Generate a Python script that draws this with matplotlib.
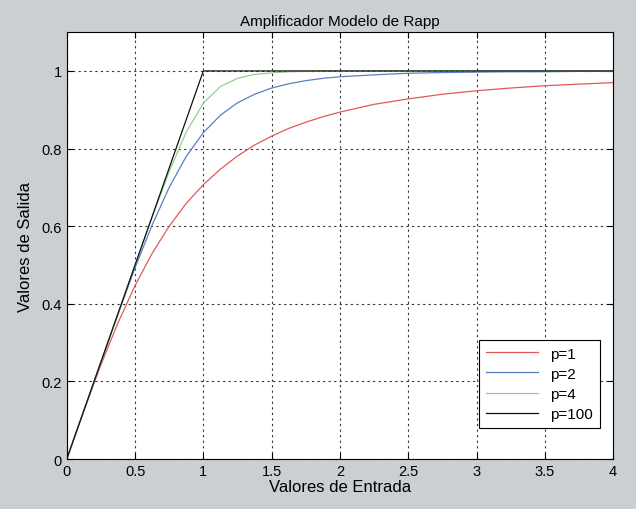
import matplotlib
matplotlib.use("Agg")
import matplotlib.pyplot as plt

x_in = [0, 0.125, 0.25, 0.375, 0.5, 0.625, 0.75, 0.875, 1.0, 1.125, 1.25, 1.375, 1.5, 1.625, 1.75, 1.875,
        2.0, 2.25, 2.5, 2.75, 3.0, 3.25, 3.5, 3.75, 4.0]
y_p1 = [0, 0.124, 0.243, 0.351, 0.447, 0.530, 0.600, 0.659, 0.707, 0.747, 0.781, 0.809, 0.832, 0.852, 0.868, 0.882,
        0.894, 0.914, 0.928, 0.940, 0.949, 0.956, 0.962, 0.966, 0.970]
y_p2 = [0, 0.125, 0.250, 0.373, 0.493, 0.603, 0.700, 0.780, 0.841, 0.886, 0.918, 0.940, 0.956, 0.967, 0.975, 0.981,
        0.985, 0.990, 0.994, 0.996, 0.997, 0.998, 0.998, 0.999, 0.999]
y_p4 = [0, 0.125, 0.250, 0.375, 0.500, 0.623, 0.741, 0.843, 0.917, 0.960, 0.981, 0.991, 0.995, 0.998, 0.999, 1.0,
        1.0, 1.0, 1.0, 1.0, 1.0, 1.0, 1.0, 1.0, 1.0]
y_p100 = [0, 0.125, 0.25, 0.375, 0.5, 0.625, 0.75, 0.875, 1.0, 1.0, 1.0, 1.0, 1.0, 1.0, 1.0, 1.0,
          1.0, 1.0, 1.0, 1.0, 1.0, 1.0, 1.0, 1.0, 1.0]
labels = ["p=1", "p=2", "p=4", "p=100"]
colors = ["#e05a5a", "#5a7fc4", "#8fd08f", "#111111"]
xticks = [0, 0.5, 1, 1.5, 2, 2.5, 3, 3.5, 4]
xticklabels = ["0", "0.5", "1", "1.5", "2", "2.5", "3", "3.5", "4"]
yticks = [0, 0.2, 0.4, 0.6, 0.8, 1.0]
yticklabels = ["0", "0.2", "0.4", "0.6", "0.8", "1"]

plt.rcParams['font.family'] = ['Liberation Sans', 'DejaVu Sans']

fig = plt.figure(figsize=(6.36, 5.10), dpi=100, facecolor='#cbcfd2')
ax = fig.add_axes([0.105, 0.098, 0.859, 0.837])
ax.set_facecolor('white')

for ys, lab, c in zip([y_p1, y_p2, y_p4, y_p100], labels, colors):
    ax.plot(x_in, ys, color=c, lw=0.9, label=lab)

ax.set_xlim(0, 4)
ax.set_ylim(0, 1.1)
ax.set_xticks(xticks)
ax.set_xticklabels(xticklabels)
ax.set_yticks(yticks)
ax.set_yticklabels(yticklabels)
ax.tick_params(direction='in', labelsize=10.5, length=4, top=True, right=True)
ax.grid(True, color='#333333', linestyle=(0, (2, 3)), linewidth=0.8)
for s in ax.spines.values():
    s.set_linewidth(0.8)
ax.set_title("Amplificador Modelo de Rapp", fontsize=11, pad=5)
ax.set_xlabel("Valores de Entrada", fontsize=12, labelpad=1)
ax.set_ylabel("Valores de Salida", fontsize=12, labelpad=6)

leg = ax.legend(loc='lower right', bbox_to_anchor=(0.99, 0.055), fontsize=11,
                fancybox=False, edgecolor='black', framealpha=1, handlelength=3.4,
                borderpad=0.45, labelspacing=0.4)
leg.get_frame().set_linewidth(0.8)

fig.savefig("out.png", dpi=100, facecolor=fig.get_facecolor())
